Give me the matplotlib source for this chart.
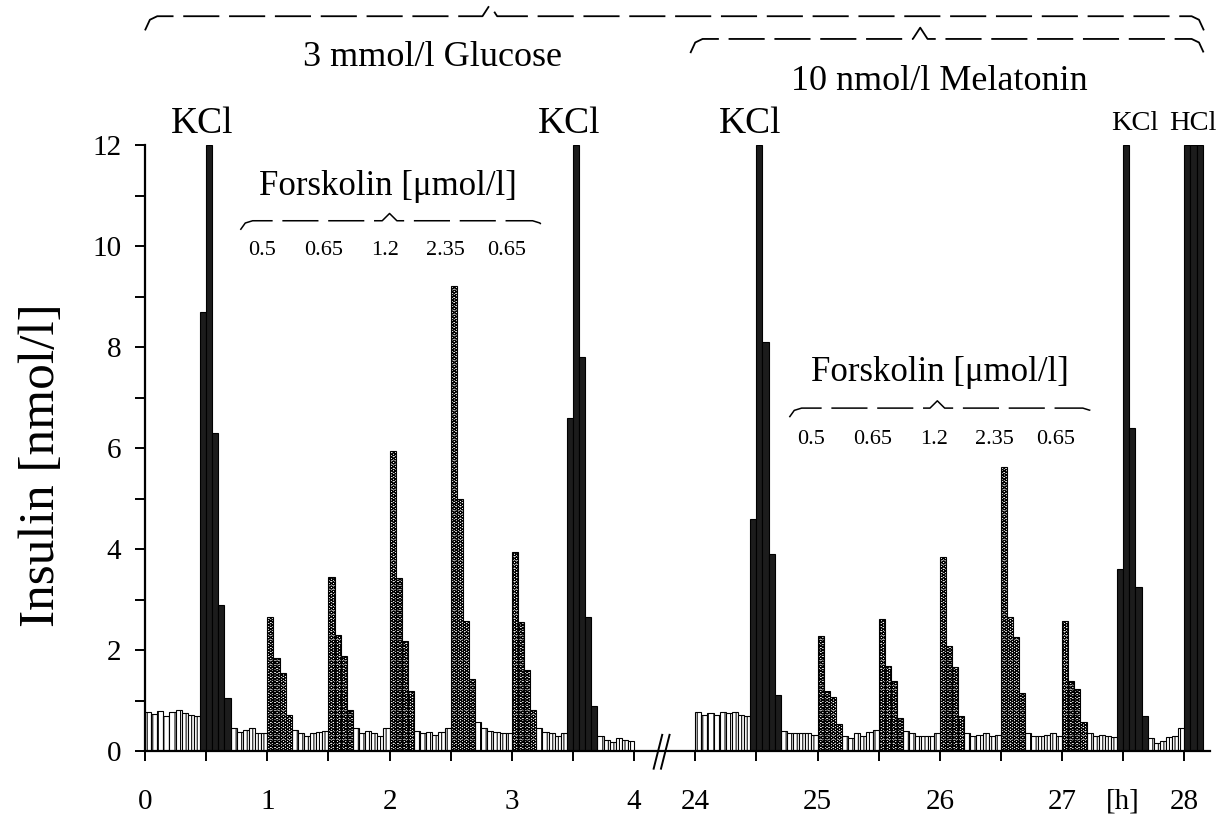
import matplotlib
matplotlib.use('Agg')
import matplotlib.pyplot as plt
import numpy as np
from matplotlib.ticker import FixedLocator, NullFormatter

plt.rcParams['font.family'] = ['Liberation Serif', 'DejaVu Serif']
plt.rcParams['hatch.linewidth'] = 0.75
plt.rcParams['lines.scale_dashes'] = False

# ---------------- data ----------------
DT = 0.05                      # fraction length [h]
seg1_start = 0.0               # 3 mmol/l glucose
seg2_start = 24.0              # + 10 nmol/l melatonin
seg2_axis_pos = 4.5            # where 24 h sits on the broken axis

# b = basal, f = forskolin, k = KCl / HCl
seg1_values = [0.78, 0.74, 0.80, 0.70, 0.78, 0.82, 0.76, 0.72, 0.70,
               8.7, 12.0, 6.3, 2.9, 1.05,
               0.45, 0.38, 0.42, 0.45, 0.35, 0.35,
               2.65, 1.85, 1.55, 0.72,
               0.42, 0.35, 0.30, 0.35, 0.38, 0.40,
               3.45, 2.30, 1.88, 0.82,
               0.45, 0.35, 0.40, 0.35, 0.30, 0.45,
               5.95, 3.42, 2.18, 1.18,
               0.40, 0.35, 0.38, 0.32, 0.38, 0.45,
               9.2, 5.0, 2.58, 1.43,
               0.57, 0.45, 0.40, 0.38, 0.35, 0.35,
               3.95, 2.55, 1.60, 0.82,
               0.45, 0.38, 0.35, 0.30, 0.35,
               6.6, 12.0, 7.8, 2.65, 0.9,
               0.30, 0.22, 0.18, 0.25, 0.22, 0.20]
seg1_types = ("b" * 9 + "k" * 5 + "b" * 6 + "f" * 4 + "b" * 6 + "f" * 4 + "b" * 6 +
              "f" * 4 + "b" * 6 + "f" * 4 + "b" * 6 + "f" * 4 + "b" * 5 + "k" * 5 + "b" * 6)

seg2_values = [0.78, 0.72, 0.76, 0.72, 0.78, 0.76, 0.78, 0.72, 0.70,
               4.6, 12.0, 8.1, 3.9, 1.1,
               0.40, 0.35, 0.35, 0.35, 0.35, 0.32,
               2.28, 1.18, 1.06, 0.53,
               0.30, 0.25, 0.35, 0.30, 0.38, 0.42,
               2.62, 1.68, 1.38, 0.65,
               0.40, 0.35, 0.30, 0.30, 0.30, 0.35,
               3.85, 2.08, 1.67, 0.70,
               0.35, 0.30, 0.32, 0.35, 0.30, 0.32,
               5.63, 2.65, 2.25, 1.14,
               0.35, 0.30, 0.30, 0.32, 0.35, 0.30,
               2.58, 1.38, 1.23, 0.57,
               0.35, 0.30, 0.32, 0.30, 0.28,
               3.6, 12.0, 6.4, 3.25, 0.7,
               0.25, 0.15, 0.20, 0.28, 0.30, 0.45,
               12.0, 12.0, 12.0]
seg2_types = ("b" * 9 + "k" * 5 + "b" * 6 + "f" * 4 + "b" * 6 + "f" * 4 + "b" * 6 +
              "f" * 4 + "b" * 6 + "f" * 4 + "b" * 6 + "f" * 4 + "b" * 5 + "k" * 5 + "b" * 6 + "k" * 3)

forskolin_doses = ["0.5", "0.65", "1.2", "2.35", "0.65"]
x_tick_labels_1 = ["0", "1", "2", "3", "4"]
x_tick_labels_2 = ["24", "25", "26", "27", "[h]", "28"]
x_tick_hours_2 = [24, 25, 26, 27, 27.5, 28]
y_ticks = [0, 2, 4, 6, 8, 10, 12]

# ---------------- figure ----------------
fig = plt.figure(figsize=(12.21, 8.22), dpi=100)
ax = fig.add_axes([145 / 1221, 71 / 822, 1065 / 1221, 606 / 822])

styles = {
    "b": dict(color="white", edgecolor="black", hatch="|||", linewidth=0.8),
    "f": dict(color="white", edgecolor="black", hatch="OOOO", linewidth=0.8),
    "k": dict(color="#1c1c1c", edgecolor="black", linewidth=0.8),
}


def draw_segment(start, axis_start, values, types):
    t = start + DT * np.arange(len(values))
    pos = t - start + axis_start
    vals = np.asarray(values)
    ty = np.array(list(types))
    for key, st in styles.items():
        m = ty == key
        ax.bar(pos[m], vals[m], width=DT, align="edge", zorder=2, **st)
    return t, pos, vals, ty


t1, p1, v1, ty1 = draw_segment(seg1_start, 0.0, seg1_values, seg1_types)
t2, p2, v2, ty2 = draw_segment(seg2_start, seg2_axis_pos, seg2_values, seg2_types)

ax.set_xlim(0, 8.71)
ax.set_ylim(0, 12)
for s in ("top", "right"):
    ax.spines[s].set_visible(False)
ax.spines["left"].set_linewidth(1.6)
ax.spines["bottom"].set_linewidth(1.6)

ax.yaxis.set_major_locator(FixedLocator(y_ticks))
ax.yaxis.set_minor_locator(FixedLocator(np.arange(1, 12, 2)))
ax.set_yticklabels([str(v) for v in y_ticks])

maj_x = list(range(0, 5)) + [h - seg2_start + seg2_axis_pos for h in x_tick_hours_2]
ax.xaxis.set_major_locator(FixedLocator(maj_x))
ax.set_xticklabels(x_tick_labels_1 + x_tick_labels_2)
minor_x = [0.5, 1.5, 2.5, 3.5] + [h - seg2_start + seg2_axis_pos for h in (24.5, 25.5, 26.5)]
ax.xaxis.set_minor_locator(FixedLocator(minor_x))
ax.xaxis.set_minor_formatter(NullFormatter())

ax.tick_params(axis="both", which="both", direction="out", length=7, width=1.4,
               labelsize=21, colors="black")
ax.tick_params(axis="y", pad=10)
ax.tick_params(axis="x", pad=20)

fig.text(42 / 1221, 1 - 465 / 822, "Insulin [nmol/l]", rotation=90,
         fontsize=37, ha="center", va="center")

# axis break mark
for dx in (0.0, 0.06):
    ax.plot([4.16 + dx, 4.23 + dx], [-0.35, 0.32], color="black", lw=1.4,
            clip_on=False, zorder=5)


# ---------------- braces ----------------
def brace(x0, x1, xm, y, h, lw=1.3):
    xs = [x0, x0 + 0.04, x0 + 0.1]
    ys = [y - h, y - h * 0.25, y]
    xs += [xm - 0.06, xm, xm + 0.06]
    ys += [y, y + h * 0.8, y]
    xs += [x1 - 0.1, x1 - 0.04, x1]
    ys += [y, y - h * 0.25, y - h]
    ax.plot(xs, ys, color="black", lw=lw, dashes=(26, 7),
            clip_on=False, zorder=5)


kw = dict(ha="center", va="center", clip_on=False)
# top
brace(0.0, 8.66, 2.82, 14.55, 0.28)
ax.text(2.355, 13.74, "3 mmol/l Glucose", fontsize=26, **kw)
brace(4.46, 8.66, 6.34, 14.1, 0.28)
ax.text(6.5, 13.25, "10 nmol/l Melatonin", fontsize=26, **kw)

# KCl / HCl labels
ax.text(0.47, 12.42, "KCl", fontsize=27, **kw)
ax.text(3.47, 12.42, "KCl", fontsize=27, **kw)
ax.text(4.95, 12.42, "KCl", fontsize=27, **kw)
ax.text(7.905, 12.42, "KCl", fontsize=20.5, ha="left", va="center", clip_on=False)
ax.text(8.76, 12.42, "HCl", fontsize=20.5, ha="right", va="center", clip_on=False)

# forskolin annotations
f1_starts = p1[1:][(ty1[1:] == "f") & (ty1[:-1] != "f")]
f2_starts = p2[1:][(ty2[1:] == "f") & (ty2[:-1] != "f")]
ax.text(1.99, 11.17, "Forskolin [\u03bcmol/l]", fontsize=25, **kw)
brace(0.78, 3.27, 2.0, 10.5, 0.18, lw=1.1)
for x, lab in zip(f1_starts, forskolin_doses):
    ax.text(x - 0.04, 9.92, lab, fontsize=16, **kw)

ax.text(6.5, 7.5, "Forskolin [\u03bcmol/l]", fontsize=25, **kw)
brace(5.27, 7.77, 6.48, 6.79, 0.18, lw=1.1)
for x, lab in zip(f2_starts, forskolin_doses):
    ax.text(x - 0.05, 6.16, lab, fontsize=16, **kw)

fig.savefig("out.png", dpi=100)
